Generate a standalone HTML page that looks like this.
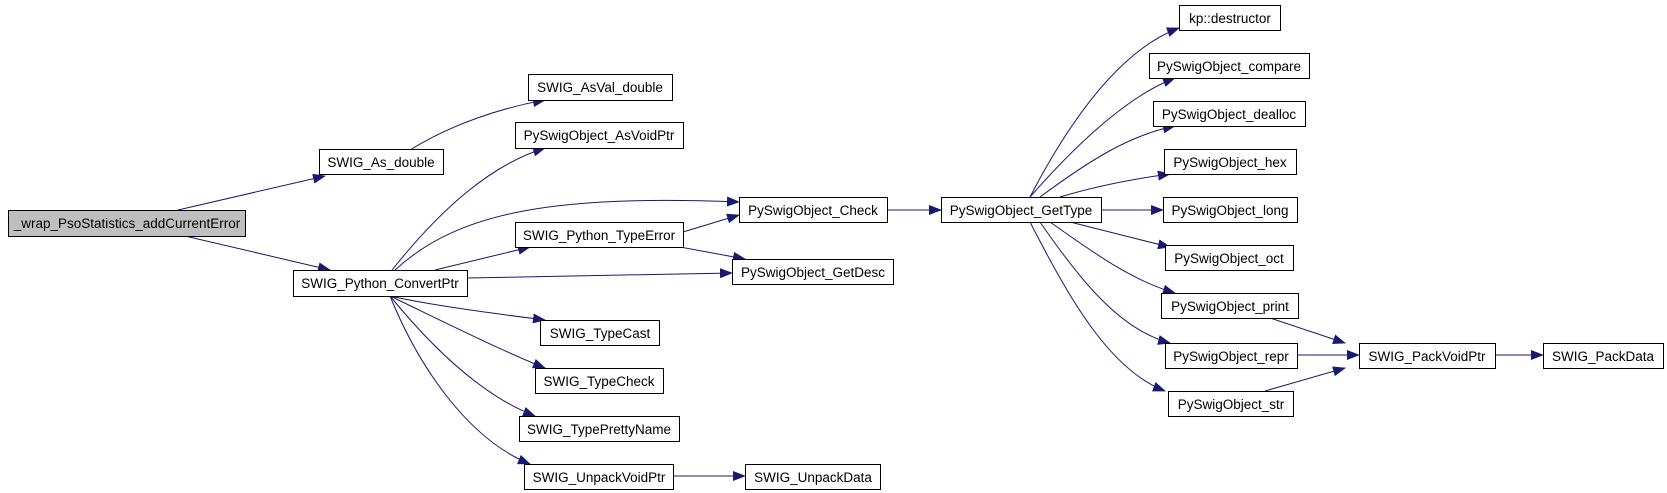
<!DOCTYPE html>
<html><head><meta charset="utf-8"><style>
html,body{margin:0;padding:0;background:#fff;width:1667px;height:493px;overflow:hidden}
svg text{font-family:"Liberation Sans",Arial,sans-serif;font-size:13.5px;fill:#000}
</style></head><body>
<svg width="1667" height="493" viewBox="0 0 1667 493" xmlns="http://www.w3.org/2000/svg">
<defs><marker id="a" markerWidth="13" markerHeight="10" refX="12" refY="5" orient="auto" markerUnits="userSpaceOnUse"><path d="M0,0 L13,5 L0,10 z" fill="#191970"/></marker></defs>
<g fill="none" stroke="#191970" stroke-width="1" marker-end="url(#a)">
<path d="M178,210 L325,176"/>
<path d="M185,236 L330,270"/>
<path d="M410,150 C450,125 500,108 545,100"/>
<path d="M392,270 C440,210 490,165 545,148"/>
<path d="M395,270 C460,210 560,195 739,202"/>
<path d="M435,270 L530,247"/>
<path d="M467,278 L732,273"/>
<path d="M390,296 C430,305 490,313 545,320"/>
<path d="M390,296 C440,320 500,350 545,368"/>
<path d="M390,296 C430,345 480,395 535,416"/>
<path d="M390,296 C420,370 470,440 530,464"/>
<path d="M683,232 L739,215"/>
<path d="M680,247 L745,259"/>
<path d="M887,210 L941,210"/>
<path d="M1030,197 C1070,120 1120,50 1179,28"/>
<path d="M1030,197 C1080,140 1130,95 1175,78"/>
<path d="M1040,197 C1090,160 1130,135 1175,126"/>
<path d="M1060,197 C1100,185 1140,178 1170,174"/>
<path d="M1101,210 L1163,210"/>
<path d="M1070,222 C1110,232 1140,240 1170,247"/>
<path d="M1050,222 C1090,250 1130,280 1175,293"/>
<path d="M1040,222 C1080,280 1120,330 1170,343"/>
<path d="M1030,222 C1070,300 1110,370 1165,391"/>
<path d="M1270,318 L1345,343"/>
<path d="M1297,355 L1359,355"/>
<path d="M1265,391 L1345,368"/>
<path d="M1495,355 L1543,355"/>
<path d="M673,476 L745,476"/>
</g>
<g stroke="#000" stroke-width="1" fill="#fff">
<rect x="8.5" y="210.5" width="237" height="26" fill="#bfbfbf"/>
<rect x="319.5" y="149.5" width="124" height="25"/>
<rect x="293.5" y="270.5" width="174" height="26"/>
<rect x="528.5" y="74.5" width="144" height="26"/>
<rect x="515.5" y="122.5" width="168" height="26"/>
<rect x="515.5" y="222.5" width="168" height="25"/>
<rect x="739.5" y="197.5" width="148" height="25"/>
<rect x="732.5" y="259.5" width="161" height="25"/>
<rect x="941.5" y="197.5" width="160" height="25"/>
<rect x="540.5" y="320.5" width="119" height="25"/>
<rect x="535.5" y="368.5" width="128" height="25"/>
<rect x="519.5" y="416.5" width="160" height="25"/>
<rect x="524.5" y="464.5" width="149" height="25"/>
<rect x="745.5" y="464.5" width="135" height="25"/>
<rect x="1179.5" y="5.5" width="101" height="25"/>
<rect x="1149.5" y="53.5" width="160" height="25"/>
<rect x="1153.5" y="101.5" width="152" height="25"/>
<rect x="1164.5" y="149.5" width="132" height="25"/>
<rect x="1163.5" y="197.5" width="134" height="25"/>
<rect x="1165.5" y="245.5" width="128" height="25"/>
<rect x="1161.5" y="293.5" width="137" height="25"/>
<rect x="1165.5" y="343.5" width="132" height="25"/>
<rect x="1168.5" y="391.5" width="125" height="25"/>
<rect x="1359.5" y="343.5" width="136" height="25"/>
<rect x="1543.5" y="343.5" width="120" height="25"/>
</g>
<g text-anchor="middle">
<text x="127" y="228">_wrap_PsoStatistics_addCurrentError</text>
<text x="381" y="167">SWIG_As_double</text>
<text x="380" y="288">SWIG_Python_ConvertPtr</text>
<text x="600" y="92">SWIG_AsVal_double</text>
<text x="599" y="140">PySwigObject_AsVoidPtr</text>
<text x="599" y="240">SWIG_Python_TypeError</text>
<text x="813" y="215">PySwigObject_Check</text>
<text x="813" y="277">PySwigObject_GetDesc</text>
<text x="1021" y="215">PySwigObject_GetType</text>
<text x="600" y="338">SWIG_TypeCast</text>
<text x="599" y="386">SWIG_TypeCheck</text>
<text x="599" y="434">SWIG_TypePrettyName</text>
<text x="599" y="482">SWIG_UnpackVoidPtr</text>
<text x="813" y="482">SWIG_UnpackData</text>
<text x="1230" y="23">kp::destructor</text>
<text x="1229" y="71">PySwigObject_compare</text>
<text x="1229" y="119">PySwigObject_dealloc</text>
<text x="1230" y="167">PySwigObject_hex</text>
<text x="1230" y="215">PySwigObject_long</text>
<text x="1229" y="263">PySwigObject_oct</text>
<text x="1230" y="311">PySwigObject_print</text>
<text x="1231" y="361">PySwigObject_repr</text>
<text x="1231" y="409">PySwigObject_str</text>
<text x="1427" y="361">SWIG_PackVoidPtr</text>
<text x="1603" y="361">SWIG_PackData</text>
</g>
</svg>
</body></html>
